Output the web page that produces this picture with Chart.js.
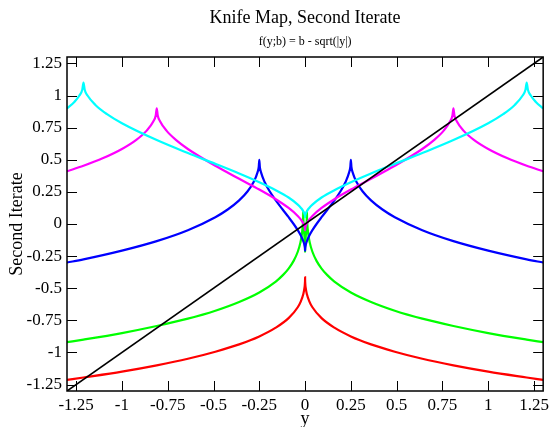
<!DOCTYPE html>
<html>
<head>
<meta charset="utf-8">
<title>Knife Map, Second Iterate</title>
<script src="https://cdn.jsdelivr.net/npm/chart.js@4.4.1/dist/chart.umd.min.js"></script>
<style>
  html, body { margin: 0; padding: 0; background: #fff; }
  #knife { display: block; }
</style>
</head>
<body>
<canvas id="knife" width="553" height="427"></canvas>
<script>
// tick positions shared by both axes
const tickValues = [-1.25, -1, -0.75, -0.5, -0.25, 0, 0.25, 0.5, 0.75, 1, 1.25];

// y = x reference line
const diagX = [-1.3, 1.3];
const diagY = [-1.3, 1.3];

// b = -0.1
const redX = [-1.3, -1.21, -1.0, -0.81, -0.64, -0.49, -0.36, -0.25, -0.16, -0.09, -0.04, -0.0225, -0.01, -0.0036, -0.0009, -0.0001,
  0, 0.0001, 0.0009, 0.0036, 0.01, 0.0225, 0.04, 0.09, 0.16, 0.25, 0.36, 0.49, 0.64, 0.81, 1.0, 1.21, 1.3];
const redY = [-1.214, -1.195, -1.149, -1.1, -1.049, -0.994, -0.937, -0.875, -0.807, -0.733, -0.648, -0.6, -0.547, -0.5, -0.461, -0.432,
  -0.416, -0.432, -0.461, -0.5, -0.547, -0.6, -0.648, -0.733, -0.807, -0.875, -0.937, -0.994, -1.049, -1.1, -1.149, -1.195, -1.214];

// b = 0.1
const greenX = [-1.3, -1.21, -1.0, -0.81, -0.64, -0.49, -0.36, -0.25, -0.16, -0.12, -0.09, -0.0625, -0.04, -0.0256, -0.0169, -0.0121,
  -0.0106, -0.01, -0.0094, -0.0081, -0.0064, -0.0025, -0.0004, 0, 0.0004, 0.0025, 0.0064, 0.0081, 0.0094, 0.01, 0.0106, 0.0121,
  0.0169, 0.0256, 0.04, 0.0625, 0.09, 0.12, 0.16, 0.25, 0.36, 0.49, 0.64, 0.81, 1.0, 1.21, 1.3];
const greenY = [-0.92, -0.9, -0.849, -0.794, -0.737, -0.675, -0.607, -0.533, -0.448, -0.396, -0.347, -0.287, -0.216, -0.145, -0.073, 0,
  0.045, 0.1, 0.045, 0, -0.041, -0.124, -0.183, -0.216, -0.183, -0.124, -0.041, 0, 0.045, 0.1, 0.045, 0,
  -0.073, -0.145, -0.216, -0.287, -0.347, -0.396, -0.448, -0.533, -0.607, -0.675, -0.737, -0.794, -0.849, -0.9, -0.92];

// b = 0.5
const blueX = [-1.3, -1.21, -1.0, -0.81, -0.64, -0.49, -0.4225, -0.36, -0.3136, -0.2809, -0.2601, -0.253, -0.25, -0.247, -0.2401,
  -0.2209, -0.1936, -0.16, -0.1225, -0.09, -0.0625, -0.04, -0.0225, -0.01, -0.0025, -0.0004, 0, 0.0004, 0.0025, 0.01, 0.0225, 0.04,
  0.0625, 0.09, 0.1225, 0.16, 0.1936, 0.2209, 0.2401, 0.247, 0.25, 0.253, 0.2601, 0.2809, 0.3136, 0.36, 0.4225, 0.49, 0.64, 0.81,
  1.0, 1.21, 1.3];
const blueY = [-0.3, -0.275, -0.207, -0.133, -0.048, 0.053, 0.113, 0.184, 0.255, 0.327, 0.4, 0.445, 0.5, 0.445, 0.4,
  0.327, 0.255, 0.184, 0.113, 0.053, 0, -0.048, -0.092, -0.133, -0.171, -0.193, -0.207, -0.193, -0.171, -0.133, -0.092, -0.048,
  0, 0.053, 0.113, 0.184, 0.255, 0.327, 0.4, 0.445, 0.5, 0.445, 0.4, 0.327, 0.255, 0.184, 0.113, 0.053, -0.048, -0.133,
  -0.207, -0.275, -0.3];

// b = 0.9
const magentaX = [-1.3, -1.21, -1.1025, -1.0, -0.9216, -0.8649, -0.8281, -0.8154, -0.81, -0.8046, -0.7921, -0.7569, -0.7056, -0.64,
  -0.49, -0.36, -0.25, -0.16, -0.09, -0.04, -0.0225, -0.01, -0.0025, -0.0004, 0, 0.0004, 0.0025, 0.01, 0.0225, 0.04, 0.09, 0.16,
  0.25, 0.36, 0.49, 0.64, 0.7056, 0.7569, 0.7921, 0.8046, 0.81, 0.8154, 0.8281, 0.8649, 0.9216, 1.0, 1.1025, 1.21, 1.3];
const magentaY = [0.41, 0.453, 0.513, 0.584, 0.655, 0.727, 0.8, 0.845, 0.9, 0.845, 0.8, 0.727, 0.655, 0.584,
  0.453, 0.352, 0.268, 0.193, 0.125, 0.063, 0.034, 0.006, -0.022, -0.038, -0.049, -0.038, -0.022, 0.006, 0.034, 0.063, 0.125, 0.193,
  0.268, 0.352, 0.453, 0.584, 0.655, 0.727, 0.8, 0.845, 0.9, 0.845, 0.8, 0.727, 0.655, 0.584, 0.513, 0.453, 0.41];

// b = 1.1
const cyanX = [-1.3, -1.26, -1.2321, -1.2166, -1.21, -1.2034, -1.1881, -1.1449, -1.0816, -1.0, -0.81, -0.64, -0.49, -0.36, -0.25,
  -0.16, -0.09, -0.04, -0.0225, -0.01, -0.0025, -0.0004, 0, 0.0004, 0.0025, 0.01, 0.0225, 0.04, 0.09, 0.16, 0.25, 0.36, 0.49, 0.64,
  0.81, 1.0, 1.0816, 1.1449, 1.1881, 1.2034, 1.21, 1.2166, 1.2321, 1.26, 1.3];
const cyanY = [0.9, 0.95, 1.0, 1.045, 1.1, 1.045, 1.0, 0.927, 0.855, 0.784, 0.653, 0.552, 0.468, 0.393, 0.325,
  0.263, 0.206, 0.151, 0.125, 0.1, 0.075, 0.061, 0.051, 0.061, 0.075, 0.1, 0.125, 0.151, 0.206, 0.263, 0.325, 0.393, 0.468, 0.552,
  0.653, 0.784, 0.855, 0.927, 1.0, 1.045, 1.1, 1.045, 1.0, 0.95, 0.9];

const SERIF = '"Liberation Serif", "Times New Roman", serif';

function pts(xs, ys) {
  return xs.map((x, i) => ({ x: x, y: ys[i] }));
}

function curve(xs, ys, color, width) {
  return {
    data: pts(xs, ys),
    showLine: true,
    borderColor: color,
    backgroundColor: color,
    borderWidth: width,
    pointRadius: 0,
    fill: false,
    cubicInterpolationMode: 'monotone'
  };
}

// frame, inward ticks on all four sides, and the two title lines
const framePlugin = {
  id: 'frame',
  afterDatasetsDraw(chart) {
    const { ctx, chartArea: a, scales } = chart;
    const len = 10;
    ctx.save();
    ctx.strokeStyle = '#000';
    ctx.lineWidth = 1;
    ctx.beginPath();
    tickValues.forEach(v => {
      const px = Math.round(scales.x.getPixelForValue(v)) + 0.5;
      ctx.moveTo(px, a.bottom); ctx.lineTo(px, a.bottom - len);
      ctx.moveTo(px, a.top); ctx.lineTo(px, a.top + len);
      const py = Math.round(scales.y.getPixelForValue(v)) + 0.5;
      ctx.moveTo(a.left, py); ctx.lineTo(a.left + len, py);
      ctx.moveTo(a.right, py); ctx.lineTo(a.right - len, py);
    });
    ctx.stroke();
    ctx.lineWidth = 1.5;
    ctx.strokeRect(a.left, a.top, a.right - a.left, a.bottom - a.top);
    ctx.restore();
  },
  afterDraw(chart) {
    const { ctx, chartArea: a } = chart;
    const cx = (a.left + a.right) / 2;
    ctx.save();
    ctx.fillStyle = '#000';
    ctx.textAlign = 'center';
    ctx.textBaseline = 'alphabetic';
    ctx.font = '18px ' + SERIF;
    ctx.fillText('Knife Map, Second Iterate', cx, 23);
    ctx.font = '12px ' + SERIF;
    ctx.fillText('f(y;b) = b - sqrt(|y|)', cx, 45);
    ctx.restore();
  }
};

const tickOpts = {
  color: '#000',
  font: { family: SERIF, size: 17 },
  autoSkip: false,
  callback: v => String(v)
};

new Chart(document.getElementById('knife'), {
  type: 'scatter',
  data: {
    datasets: [
      curve(diagX, diagY, '#000000', 1.6),
      curve(cyanX, cyanY, '#00ffff', 2.2),
      curve(magentaX, magentaY, '#ff00ff', 2.2),
      curve(blueX, blueY, '#0000ff', 2.2),
      curve(greenX, greenY, '#00ff00', 2.2),
      curve(redX, redY, '#ff0000', 2.2)
    ]
  },
  options: {
    responsive: false,
    animation: false,
    events: [],
    layout: { padding: { top: 57, right: 6, bottom: 0, left: 0 } },
    plugins: {
      legend: { display: false },
      tooltip: { enabled: false }
    },
    scales: {
      x: {
        type: 'linear',
        min: -1.3,
        max: 1.3,
        grid: { display: false, drawTicks: false },
        border: { display: false },
        afterBuildTicks: s => { s.ticks = tickValues.map(v => ({ value: v })); },
        afterFit: s => { s.height = 36; },
        ticks: Object.assign({ padding: 4, maxRotation: 0 }, tickOpts),
        title: {
          display: true,
          text: 'y',
          color: '#000',
          font: { family: SERIF, size: 18 },
          padding: { top: 0, bottom: -3 }
        }
      },
      y: {
        type: 'linear',
        min: -1.3,
        max: 1.3,
        grid: { display: false, drawTicks: false },
        border: { display: false },
        afterBuildTicks: s => { s.ticks = tickValues.map(v => ({ value: v })); },
        afterFit: s => { s.width = 67; },
        ticks: Object.assign({ padding: 5 }, tickOpts),
        title: {
          display: true,
          text: 'Second Iterate',
          color: '#000',
          font: { family: SERIF, size: 18 },
          padding: { top: 6, bottom: 0 }
        }
      }
    }
  },
  plugins: [framePlugin]
});
</script>
</body>
</html>
